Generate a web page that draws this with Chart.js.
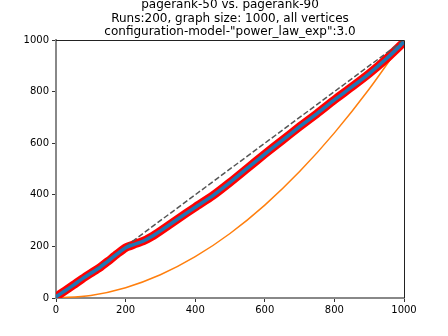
<!DOCTYPE html>
<html lang="en">
<head>
  <meta charset="UTF-8" />
  <title>pagerank-50 vs. pagerank-90</title>
  <style>
    body { margin: 0; padding: 0; background: #ffffff; }
    #chart { display: block; }
  </style>
</head>
<body>
  <canvas id="chart" width="448" height="336"></canvas>

  <script src="https://cdn.jsdelivr.net/npm/chart.js"></script>
  <script>
    // Data
    const titleLines = [
      'pagerank-50 vs. pagerank-90',
      'Runs:200, graph size: 1000, all vertices',
      'configuration-model-"power_law_exp":3.0'
    ];
    const axisTicks = [0, 200, 400, 600, 800, 1000];

    const rankX = [0, 25, 50, 75, 100, 125, 150, 175, 200, 225, 250, 275, 300, 350, 400, 450, 500, 550, 600, 650, 700, 750, 800, 850, 900, 950, 1000];
    const rankY = [5, 27, 50, 74, 96, 117, 143, 170, 195, 208, 220, 238, 260, 306, 352, 396, 448, 503, 558, 611, 664, 715, 768, 818, 870, 928, 992];

    const curveX = [0, 100, 200, 300, 400, 500, 600, 700, 800, 900, 1000];
    const curveY = [0, 10, 40, 90, 160, 250, 360, 490, 640, 810, 1000];

    const diagX = [0, 1000];
    const diagY = [0, 1000];

    const pts = (xs, ys) => xs.map((x, i) => ({ x: x, y: ys[i] }));

    // title and top/right spines
    const framePlugin = {
      id: 'frame',
      afterDraw(chart) {
        const { ctx, chartArea: a } = chart;
        ctx.save();
        ctx.strokeStyle = '#222';
        ctx.lineWidth = 1;
        ctx.beginPath();
        ctx.moveTo(a.left, a.top + 0.5);
        ctx.lineTo(a.right + 0.5, a.top + 0.5);
        ctx.lineTo(a.right + 0.5, a.bottom);
        ctx.stroke();

        ctx.fillStyle = '#000';
        ctx.font = '12px "DejaVu Sans"';
        ctx.textAlign = 'center';
        ctx.textBaseline = 'middle';
        const cx = (a.left + a.right) / 2;
        titleLines.forEach((t, i) => ctx.fillText(t, cx, 5 + i * 13.5));
        ctx.restore();
      }
    };

    const tickFont = { family: 'DejaVu Sans', size: 10 };

    new Chart(document.getElementById('chart'), {
      type: 'scatter',
      data: {
        datasets: [
          {
            data: pts(rankX, rankY),
            showLine: true,
            borderColor: '#1f77b4',
            borderWidth: 3.5,
            pointRadius: 0,
            tension: 0.2,
            clip: 0,
            order: 1
          },
          {
            data: pts(diagX, diagY),
            showLine: true,
            borderColor: '#555555',
            borderWidth: 1.5,
            borderDash: [5.5, 2.4],
            pointRadius: 0,
            clip: 0,
            order: 2
          },
          {
            data: pts(rankX, rankY),
            showLine: true,
            borderColor: '#ff0000',
            borderWidth: 8.5,
            pointRadius: 0,
            tension: 0.2,
            clip: 0,
            order: 3
          },
          {
            data: pts(curveX, curveY),
            showLine: true,
            borderColor: '#ff7f0e',
            borderWidth: 1.5,
            pointRadius: 0,
            cubicInterpolationMode: 'monotone',
            clip: 0,
            order: 4
          }
        ]
      },
      options: {
        responsive: false,
        animation: false,
        layout: { padding: { top: 40, right: 44, left: 0, bottom: 0 } },
        plugins: {
          legend: { display: false },
          title: { display: false },
          tooltip: { enabled: false }
        },
        scales: {
          x: {
            type: 'linear',
            min: 0,
            max: 1000,
            afterBuildTicks: (s) => { s.ticks = axisTicks.map(v => ({ value: v })); },
            afterFit: (s) => { s.height = 38; },
            grid: { drawOnChartArea: false, drawTicks: true, tickLength: 4, color: '#333' },
            border: { color: '#888888', width: 2 },
            ticks: { color: '#000', font: tickFont, padding: 2, maxRotation: 0, callback: (v) => String(v) }
          },
          y: {
            type: 'linear',
            min: 0,
            max: 1000,
            afterBuildTicks: (s) => { s.ticks = axisTicks.map(v => ({ value: v })); },
            afterFit: (s) => { s.width = 56; },
            grid: { drawOnChartArea: false, drawTicks: true, tickLength: 4, color: '#333' },
            border: { color: '#888888', width: 2 },
            ticks: { color: '#000', font: tickFont, padding: 3, callback: (v) => String(v) }
          }
        }
      },
      plugins: [framePlugin]
    });
  </script>
</body>
</html>
